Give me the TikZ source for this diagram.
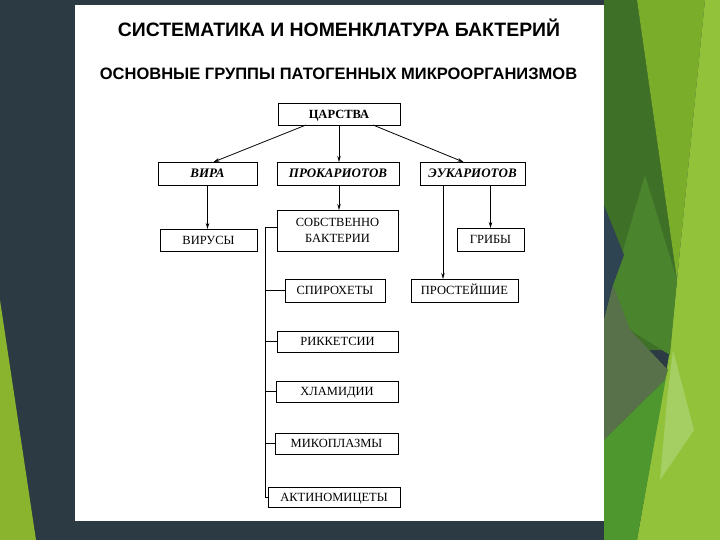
\documentclass[tikz,border=0pt]{standalone}
\usepackage{fontspec}
\setmainfont{Liberation Serif}
\newfontfamily\headfont{Liberation Sans}
\usetikzlibrary{arrows.meta,calc}
\definecolor{slate}{HTML}{2C3A43}
\definecolor{dkgreen}{HTML}{3F7027}
\definecolor{olive}{HTML}{7AAD2A}
\definecolor{ltgreen}{HTML}{92C23A}
\definecolor{navy}{HTML}{2E4453}
\definecolor{midgreen2}{HTML}{4A842D}
\definecolor{graygreen}{HTML}{58714A}
\definecolor{midgreen}{HTML}{4E972F}
\definecolor{palegreen}{HTML}{A5CF63}
\definecolor{leftgreen}{HTML}{8AB42E}
\tikzset{
  boxn/.style={draw=black, line width=0.9pt, inner sep=0pt, outer sep=0pt, align=center,
    font=\fontsize{12.5}{16}\selectfont},
  one/.style={text height=8.5pt, text depth=0pt},
  hdr/.style={boxn, one, font=\fontsize{13}{16}\selectfont\bfseries\itshape},
  arr/.style={line width=0.8pt, -{Stealth[length=6pt,width=3.5pt]}},
  ln/.style={line width=0.8pt}
}
\begin{document}
\begin{tikzpicture}[x=1pt,y=-1pt]
\useasboundingbox (0,0) rectangle (720,540);
% background
\fill[slate] (0,0) rectangle (720,540);
\fill[leftgreen] (0,300) -- (36,540) -- (0,540) -- cycle;
\fill[dkgreen] (604,0) -- (637,0) -- (677,280) -- (670,350) -- (604,350) -- cycle;
\fill[olive] (637,0) -- (705,0) -- (677,280) -- cycle;
\fill[ltgreen] (705,0) -- (720,0) -- (720,540) -- (637,540) -- (670,350) -- (677,280) -- cycle;
\fill[midgreen2] (645,175) -- (677,280) -- (670,355) -- (630,330) -- (613,285) -- cycle;
\fill[navy] (604,205) -- (624,255) -- (613,285) -- (604,320) -- cycle;
\fill[graygreen] (604,320) -- (613,285) -- (630,330) -- (668,370) -- (665,380) -- (604,440) -- cycle;
\fill[midgreen] (604,440) -- (665,380) -- (670,355) -- (637,540) -- (604,540) -- cycle;
\fill[palegreen] (673,350) -- (694,430) -- (660,480) -- (667,400) -- cycle;
% white panel
\fill[white] (75,5) rectangle (604,521);
% titles
\node[font=\headfont\bfseries\fontsize{19.4}{22}\selectfont] (title) at (339,28) {СИСТЕМАТИКА И НОМЕНКЛАТУРА БАКТЕРИЙ};
\node[font=\headfont\bfseries\fontsize{16.5}{19}\selectfont] (sub) at (338.5,74) {ОСНОВНЫЕ ГРУППЫ ПАТОГЕННЫХ МИКРООРГАНИЗМОВ};
% boxes
\node[boxn, one, font=\fontsize{12.5}{16}\selectfont\bfseries, minimum width=122pt, minimum height=22pt] (tsar) at (339,114) {ЦАРСТВА};
\node[hdr, minimum width=99pt, minimum height=23pt] (vira) at (207.5,173.5) {ВИРА};
\node[hdr, minimum width=122pt, minimum height=23pt] (prok) at (338,173.5) {ПРОКАРИОТОВ};
\node[hdr, minimum width=105pt, minimum height=23pt] (euk) at (472.5,173.5) {ЭУКАРИОТОВ};
\node[boxn, one, minimum width=97pt, minimum height=22pt] (virusy) at (208.5,240) {ВИРУСЫ};
\node[boxn, minimum width=121pt, minimum height=41pt] (sobst) at (337.5,230.5) {СОБСТВЕННО\\БАКТЕРИИ};
\node[boxn, one, minimum width=67pt, minimum height=23pt] (griby) at (490.5,239.5) {ГРИБЫ};
\node[boxn, one, minimum width=100pt, minimum height=23pt] (spiro) at (335,290.5) {СПИРОХЕТЫ};
\node[boxn, one, minimum width=107pt, minimum height=23pt] (prost) at (464.5,290.5) {ПРОСТЕЙШИЕ};
\node[boxn, one, minimum width=121pt, minimum height=21pt] (rick) at (337.5,341.5) {РИККЕТСИИ};
\node[boxn, one, minimum width=122pt, minimum height=21pt] (chlam) at (337,391.5) {ХЛАМИДИИ};
\node[boxn, one, minimum width=123pt, minimum height=21pt] (myco) at (336.5,443.5) {МИКОПЛАЗМЫ};
\node[boxn, one, minimum width=132pt, minimum height=20pt] (actino) at (334,497) {АКТИНОМИЦЕТЫ};
% connectors
\draw[arr] ([xshift=-33pt]tsar.south) -- ([xshift=6pt]vira.north);
\draw[arr] (tsar.south) -- (tsar.south |- prok.north);
\draw[arr] ([xshift=34pt]tsar.south) -- ([xshift=-9pt]euk.north);
\draw[arr] (vira.south) -- (vira.south |- virusy.north);
\draw[arr] ([xshift=1pt]prok.south) -- ([xshift=1pt]prok.south |- sobst.north);
\draw[arr] ([xshift=-29.5pt]euk.south) -- ([xshift=-29.5pt]euk.south |- prost.north);
\draw[arr] (euk.south -| griby.north) -- (griby.north);
% bracket
\coordinate (bus) at ([xshift=-12pt,yshift=3.5pt]sobst.west);
\draw[ln] ([yshift=3.5pt]sobst.west) -- (bus) |- (actino.west);
\draw[ln] (spiro.west) -- (spiro.west -| bus);
\draw[ln] (rick.west) -- (rick.west -| bus);
\draw[ln] (chlam.west) -- (chlam.west -| bus);
\draw[ln] (myco.west) -- (myco.west -| bus);
\end{tikzpicture}
\end{document}
